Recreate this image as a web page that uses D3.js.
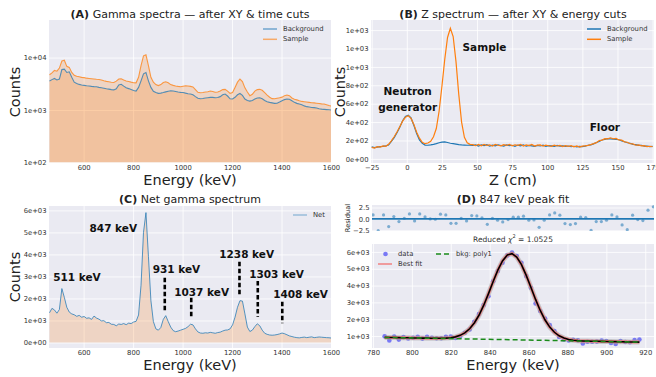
<!DOCTYPE html>
<html>
<head>
<meta charset="utf-8">
<script src="https://cdn.jsdelivr.net/npm/d3@7"></script>
<style>
body { margin: 0; background: #fff; }
svg { display: block; }
</style>
</head>
<body>
<script>
// ---- (A) gamma spectra, 10 keV bins starting at 462 keV
var energyStart = 462, energyStep = 10;
var sampleA = [4700,5100,5700,5500,6300,8600,8900,6800,6500,5200,
  4600,4400,4300,4200,4150,4050,4000,3950,3900,3850,
  3820,3750,3620,3520,3450,3380,3350,3550,3900,3950,
  3750,3580,3500,3400,3320,3300,4200,7000,10800,11300,
  7000,4200,3400,3050,2920,3050,3350,3450,3300,3050,
  2950,2880,2820,2780,2850,2900,2880,2820,2760,2450,
  2180,2140,2160,2200,2230,2300,2250,2180,2200,2300,
  2450,2480,2300,2080,2150,2700,3400,3900,3500,2650,
  2200,1880,2000,2300,2450,2480,2380,2150,1930,1750,
  1650,1640,1680,1710,1760,1880,1930,1880,1700,1600,
  1560,1500,1460,1440,1420,1400,1380,1370,1350,1330,
  1310,1300,1260,1220,1190];
var backgroundA = [3570,3800,4000,3750,3900,5900,6000,5200,5350,4200,
  3400,3200,3080,3000,2950,2900,2870,2820,2790,2770,
  2700,2650,2600,2540,2500,2450,2420,2550,3000,3100,
  2850,2650,2560,2450,2350,2300,2700,3600,4900,5200,
  3600,2700,2280,2150,2080,2100,2150,2220,2280,2330,
  2300,2250,2200,2170,2160,2100,2050,2020,1950,1800,
  1680,1640,1660,1700,1720,1740,1740,1720,1730,1800,
  1950,2020,1850,1640,1620,1750,1950,2070,1900,1620,
  1520,1480,1520,1620,1700,1710,1640,1520,1440,1400,
  1370,1340,1350,1420,1500,1580,1620,1600,1500,1400,
  1340,1300,1260,1200,1160,1140,1120,1110,1090,1060,
  1040,1030,1020,1010,1000];

// ---- (C) net spectrum, same bins
var netC = [1350,1550,1480,1330,1500,2450,2050,1600,1380,1300,
  1260,1190,1230,1150,1180,1100,1120,1050,1200,1110,
  1060,980,990,900,910,830,820,760,840,820,
  860,810,880,860,930,960,1250,2600,5000,5900,
  3900,1900,950,620,560,680,1050,1220,950,700,
  540,490,520,560,600,640,720,830,800,620,
  480,430,420,440,430,460,440,420,450,470,
  520,560,570,620,800,1150,1600,1900,1880,1300,
  700,500,560,720,850,760,560,420,370,340,
  330,340,360,390,430,400,350,300,270,240,
  220,210,230,245,220,240,255,220,235,250,
  240,230,220,215,200];
var peakLabels = ["511 keV","847 keV","931 keV","1037 keV","1238 keV","1303 keV","1408 keV"];
var peakLabelE = [573,720,975,1077,1259,1380,1477];
var peakLabelCounts = [2990,5210,3340,2310,4030,3125,2220];
var markerE = [928,1035,1230,1304,1403];
var markerTop = [2944,2035,3670,2793,1853];
var markerBottom = [1399,1099,2080,1172,872];

// ---- (B) Z spectrum, 2 cm bins starting at -25 cm
var zStart = -25, zStep = 2;
var sampleZ = [125,118,132,128,140,136,158,195,240,292,
  350,410,452,468,440,375,290,225,180,165,
  172,190,240,330,520,790,1080,1320,1420,1330,
  1060,700,400,235,175,158,154,143,156,141,
  158,146,153,139,157,148,142,155,146,158,
  141,153,147,158,140,151,144,156,139,149,
  152,138,150,143,136,149,140,146,133,144,
  135,143,131,140,128,138,142,146,155,165,
  176,199,204,219,217,229,218,222,206,203,
  185,181,164,163,148,151,141,143,134,137,
  132];
var backgroundZ = [130,122,128,134,136,142,150,190,230,285,
  345,415,460,475,445,365,275,205,170,150,
  148,152,158,165,175,182,185,178,170,165,
  160,155,152,150,148,150,147,152,140,151,
  145,155,138,150,141,153,145,139,151,144,
  148,136,150,142,153,138,146,141,135,147,
  140,148,137,144,141,135,146,138,142,136,
  140,132,137,130,136,133,139,148,152,163,
  178,190,205,212,220,218,215,212,208,196,
  186,175,170,158,154,146,148,138,140,133,
  135];
var zLabels = [["Neutron","generator"],["Sample"],["Floor"]];
var zLabelZ = [0.6, 55.3, 141];
var zLabelCounts = [738, 1220, 343];

// ---- (D) 847 keV peak fit
var fitEnergy = [786.0,788.4,790.9,793.3,795.7,798.1,800.6,803.0,805.4,807.8,
  810.3,812.7,815.1,817.5,820.0,822.4,824.8,827.2,829.7,832.1,
  834.5,836.9,839.4,841.8,844.2,846.6,849.1,851.5,853.9,856.3,
  858.8,861.2,863.6,866.0,868.5,870.9,873.3,875.7,878.2,880.6,
  883.0,885.4,887.9,890.3,892.7,895.1,897.6,900.0,902.4,904.8,
  907.3,909.7,912.1,914.5,917.0];
var dataCounts = [982,735,971,788,935,854,898,958,849,950,
  901,868,865,949,964,884,969,1199,1393,1847,
  2308,2845,3361,4259,4867,5353,5793,5959,5760,5354,
  4563,3864,2938,2488,2042,1649,1290,942,795,732,
  776,744,557,664,657,670,734,702,592,527,
  708,646,628,756,794];
var fitCounts = [920,915,910,905,900,895,888,883,879,875,
  871,868,870,879,903,952,1040,1187,1431,1775,
  2236,2818,3522,4237,4914,5465,5819,5894,5696,5256,
  4608,3896,3177,2522,1952,1530,1225,1017,880,799,
  753,726,710,700,692,687,681,676,671,666,
  660,655,650,645,640];
var bkgEnergy = [786, 917];
var bkgCounts = [920, 640];
var residuals = [0.88,-2.57,0.88,-1.69,0.51,-0.59,0.15,1.10,-0.44,1.10,
  0.44,0.00,-0.07,1.03,0.88,-0.96,-0.96,0.15,-0.44,0.74,
  0.66,0.22,-1.18,0.15,-0.29,-0.66,-0.15,0.37,0.37,0.59,
  -0.29,-0.22,-1.84,-0.29,0.88,1.32,0.81,-1.03,-1.25,-1.03,
  0.37,0.29,-2.50,-0.59,-0.59,-0.29,0.88,0.44,-1.32,-2.35,
  0.81,-0.15,-0.37,1.91,2.65];
var chi2 = "1.0525";

// ---- ticks
var energyTicks = [600, 800, 1000, 1200, 1400, 1600];
var logTicks = [100, 1000, 10000];
var zTicks = [-25, 0, 25, 50, 75, 100, 125, 150, 175];
var zCountTicks = [0, 200, 400, 600, 800, 1000, 1200, 1400];
var netTicks = [0, 1000, 2000, 3000, 4000, 5000, 6000];
var fitXTicks = [780, 800, 820, 840, 860, 880, 900, 920];
var fitYTicks = [1000, 2000, 3000, 4000, 5000, 6000];
var residTicks = [-2.5, 0, 2.5];

var FONT = "DejaVu Sans, sans-serif";
var BG = "#eaeaf2", BLUE = "#1f77b4", ORANGE = "#ff7f0e", TXT = "#333", DARK = "#222";

var svg = d3.select("body").append("svg")
    .attr("width", 656)
    .attr("height", 377)
    .style("font-family", FONT);

// matplotlib style exponent labels: 1e+03
function sci(v) {
    return v.toExponential(0).replace(/e([+-])(\d)$/, "e$10$2");
}

var clipId = 0;
// background, white grid and tick labels of one axes; returns a clipped group
function frame(x, y, xTicks, yTicks, xFmt, yFmt) {
    var x0 = x.range()[0], x1 = x.range()[1], y0 = y.range()[0], y1 = y.range()[1];
    var g = svg.append("g");
    g.append("rect").attr("x", x0).attr("y", y1)
        .attr("width", x1 - x0).attr("height", y0 - y1).attr("fill", BG);
    var axes = [];
    if (xTicks) {
        axes.push(g.append("g").attr("transform", "translate(0," + y0 + ")")
            .call(d3.axisBottom(x).tickValues(xTicks).tickSize(-(y0 - y1)).tickPadding(2.5).tickFormat(xFmt)));
    }
    axes.push(g.append("g").attr("transform", "translate(" + x0 + ",0)")
        .call(d3.axisLeft(y).tickValues(yTicks).tickSize(-(x1 - x0)).tickPadding(2.5).tickFormat(yFmt)));
    axes.forEach(function (a) {
        a.select(".domain").remove();
        a.selectAll("line").attr("stroke", "#fff").attr("stroke-width", 0.8);
        a.selectAll("text").attr("fill", TXT).attr("font-size", 6.8).attr("font-family", FONT);
    });
    var id = "clip" + (clipId++);
    svg.append("clipPath").attr("id", id).append("rect")
        .attr("x", x0).attr("y", y1).attr("width", x1 - x0).attr("height", y0 - y1);
    return svg.append("g").attr("clip-path", "url(#" + id + ")");
}

function title(cx, cy, bold, rest) {
    var t = svg.append("text").attr("x", cx).attr("y", cy)
        .attr("text-anchor", "middle").attr("dominant-baseline", "central")
        .attr("font-size", 11).attr("fill", DARK);
    t.append("tspan").attr("font-weight", "bold").text(bold);
    t.append("tspan").text(" " + rest);
}

function axisLabel(cx, cy, txt, rotate, size) {
    svg.append("text")
        .attr("transform", "translate(" + cx + "," + cy + ")" + (rotate ? " rotate(-90)" : ""))
        .attr("text-anchor", "middle").attr("dominant-baseline", "central")
        .attr("font-size", size || 14.5).attr("fill", DARK).text(txt);
}

function legendLine(x, y, txt, color, opacity, dash) {
    svg.append("line").attr("x1", x).attr("x2", x + 14).attr("y1", y).attr("y2", y)
        .attr("stroke", color).attr("stroke-width", 1.5).attr("stroke-opacity", opacity)
        .attr("stroke-dasharray", dash || null);
    svg.append("text").attr("x", x + 20).attr("y", y).attr("dominant-baseline", "central")
        .attr("font-size", 6.8).attr("fill", TXT).text(txt);
}

// ================= (A) =================
var xA = d3.scaleLinear().domain([460, 1600]).range([49, 331]);
var yA = d3.scaleLog().domain([100, 52000]).range([162.5, 20]);
var gA = frame(xA, yA, energyTicks, logTicks, d3.format("d"), sci);
var eA = sampleA.map(function (d, i) { return energyStart + energyStep * i; });

function areaTo(x, y, vals, xs, base) {
    return d3.area().x(function (d, i) { return x(xs[i]); }).y0(base).y1(function (d) { return y(d); })(vals);
}
function lineOf(x, y, vals, xs) {
    return d3.line().x(function (d, i) { return x(xs[i]); }).y(function (d) { return y(d); })(vals);
}

gA.append("path").attr("d", areaTo(xA, yA, sampleA, eA, yA.range()[0]))
    .attr("fill", ORANGE).attr("fill-opacity", 0.2);
gA.append("path").attr("d", areaTo(xA, yA, backgroundA, eA, yA.range()[0]))
    .attr("fill", ORANGE).attr("fill-opacity", 0.2);
gA.append("path").attr("d", lineOf(xA, yA, backgroundA, eA))
    .attr("fill", "none").attr("stroke", BLUE).attr("stroke-opacity", 0.75).attr("stroke-width", 1.1);
gA.append("path").attr("d", lineOf(xA, yA, sampleA, eA))
    .attr("fill", "none").attr("stroke", ORANGE).attr("stroke-opacity", 0.75).attr("stroke-width", 1.1);

legendLine(263, 29, "Background", BLUE, 0.6);
legendLine(263, 39.3, "Sample", ORANGE, 0.6);
title(190, 14, "(A)", "Gamma spectra \u2014 after XY & time cuts");
axisLabel(15, 92, "Counts", true);
axisLabel(190, 180, "Energy (keV)");

// ================= (B) =================
var xB = d3.scaleLinear().domain([-25.5, 176]).range([371, 654]);
var yB = d3.scaleLinear().domain([-45, 1510]).range([163, 20]);
var gB = frame(xB, yB, zTicks, zCountTicks, d3.format("d"), sci);
var zB = sampleZ.map(function (d, i) { return zStart + zStep * i; });

gB.append("path").attr("d", lineOf(xB, yB, backgroundZ, zB))
    .attr("fill", "none").attr("stroke", BLUE).attr("stroke-width", 1.2);
gB.append("path").attr("d", lineOf(xB, yB, sampleZ, zB))
    .attr("fill", "none").attr("stroke", ORANGE).attr("stroke-width", 1.2);

zLabels.forEach(function (lines, k) {
    var t = svg.append("text").attr("x", xB(zLabelZ[k])).attr("y", yB(zLabelCounts[k]))
        .attr("text-anchor", "middle").attr("dominant-baseline", "central")
        .attr("font-size", 10.5).attr("font-weight", "bold").attr("fill", "#111");
    lines.forEach(function (s, j) {
        t.append("tspan").attr("x", xB(zLabelZ[k])).attr("dy", j ? "1.5em" : 0).text(s);
    });
});

legendLine(587, 29, "Background", BLUE, 1);
legendLine(587, 39.3, "Sample", ORANGE, 1);
title(513, 14, "(B)", "Z spectrum \u2014 after XY & energy cuts");
axisLabel(340, 92, "Counts", true);
axisLabel(513, 180, "Z (cm)");

// ================= (C) =================
var xC = d3.scaleLinear().domain([460, 1600]).range([49, 331]);
var yC = d3.scaleLinear().domain([-250, 6200]).range([348, 206]);
var gC = frame(xC, yC, energyTicks, netTicks, d3.format("d"), sci);

gC.append("path").attr("d", areaTo(xC, yC, netC, eA, yC(0)))
    .attr("fill", ORANGE).attr("fill-opacity", 0.2);
gC.append("path").attr("d", lineOf(xC, yC, netC, eA))
    .attr("fill", "none").attr("stroke", BLUE).attr("stroke-opacity", 0.75).attr("stroke-width", 1);

markerE.forEach(function (e, k) {
    svg.append("line").attr("x1", xC(e)).attr("x2", xC(e))
        .attr("y1", yC(markerTop[k])).attr("y2", yC(markerBottom[k]))
        .attr("stroke", "#000").attr("stroke-width", 2.6).attr("stroke-dasharray", "4.5,2.5");
});
peakLabels.forEach(function (s, k) {
    svg.append("text").attr("x", xC(peakLabelE[k])).attr("y", yC(peakLabelCounts[k]))
        .attr("text-anchor", "middle").attr("dominant-baseline", "central")
        .attr("font-size", 10.5).attr("font-weight", "bold").attr("fill", "#111").text(s);
});

legendLine(293, 215, "Net", BLUE, 0.4);
title(190, 199, "(C)", "Net gamma spectrum");
axisLabel(15, 277, "Counts", true);
axisLabel(190, 365, "Energy (keV)");

// ================= (D) residuals =================
var xR = d3.scaleLinear().domain([785.5, 917.3]).range([372, 654]);
var yR = d3.scaleLinear().domain([-2.65, 3.05]).range([231, 205]);
var gR = frame(xR, yR, null, residTicks, null, d3.format(".1f"));
gR.append("line").attr("x1", 372).attr("x2", 654).attr("y1", yR(0)).attr("y2", yR(0))
    .attr("stroke", BLUE).attr("stroke-width", 1.6);
gR.selectAll("circle").data(residuals).enter().append("circle")
    .attr("cx", function (d, i) { return xR(fitEnergy[i]); })
    .attr("cy", function (d) { return yR(d); })
    .attr("r", 1.6).attr("fill", BLUE).attr("fill-opacity", 0.55);
axisLabel(348, 218, "Residual", true, 6.7);

// ================= (D) fit =================
var xD = d3.scaleLinear().domain([779.5, 924.5]).range([372, 654]);
var yD = d3.scaleLinear().domain([290, 6470]).range([348, 244]);
var gD = frame(xD, yD, fitXTicks, fitYTicks, d3.format("d"), sci);

gD.selectAll("circle").data(dataCounts).enter().append("circle")
    .attr("cx", function (d, i) { return xD(fitEnergy[i]); })
    .attr("cy", function (d) { return yD(d); })
    .attr("r", 2.3).attr("fill", "#5b5bf5").attr("fill-opacity", 0.8);
var fitPath = lineOf(xD, yD, fitCounts, fitEnergy);
gD.append("path").attr("d", fitPath).attr("fill", "none")
    .attr("stroke", "#999").attr("stroke-opacity", 0.45).attr("stroke-width", 5);
gD.append("path").attr("d", fitPath).attr("fill", "none")
    .attr("stroke", "#f08080").attr("stroke-width", 3);
gD.append("path").attr("d", fitPath).attr("fill", "none")
    .attr("stroke", "#000").attr("stroke-width", 1.6);
gD.append("path").attr("d", lineOf(xD, yD, bkgCounts, bkgEnergy)).attr("fill", "none")
    .attr("stroke", "#1a8a1a").attr("stroke-width", 1.5).attr("stroke-dasharray", "5,3");

// legend
svg.append("circle").attr("cx", 385.5).attr("cy", 254).attr("r", 2.3).attr("fill", "#5b5bf5").attr("fill-opacity", 0.8);
svg.append("text").attr("x", 398).attr("y", 254).attr("dominant-baseline", "central")
    .attr("font-size", 6.8).attr("fill", TXT).text("data");
legendLine(378, 264, "Best fit", "#f08080", 1);
legendLine(436, 254, "bkg: poly1", "#1a8a1a", 1, "5,3");

var chiText = svg.append("text").attr("x", 513).attr("y", 239)
    .attr("text-anchor", "middle").attr("dominant-baseline", "central")
    .attr("font-size", 7.5).attr("fill", TXT);
chiText.append("tspan").text("Reduced ");
chiText.append("tspan").attr("font-style", "italic").text("\u03c7");
chiText.append("tspan").attr("font-size", 5).attr("dy", -3).text("2");
chiText.append("tspan").attr("dy", 3).text(" = " + chi2);

title(513, 199, "(D)", "847 keV peak fit");
axisLabel(513, 365, "Energy (keV)");
</script>
</body>
</html>
